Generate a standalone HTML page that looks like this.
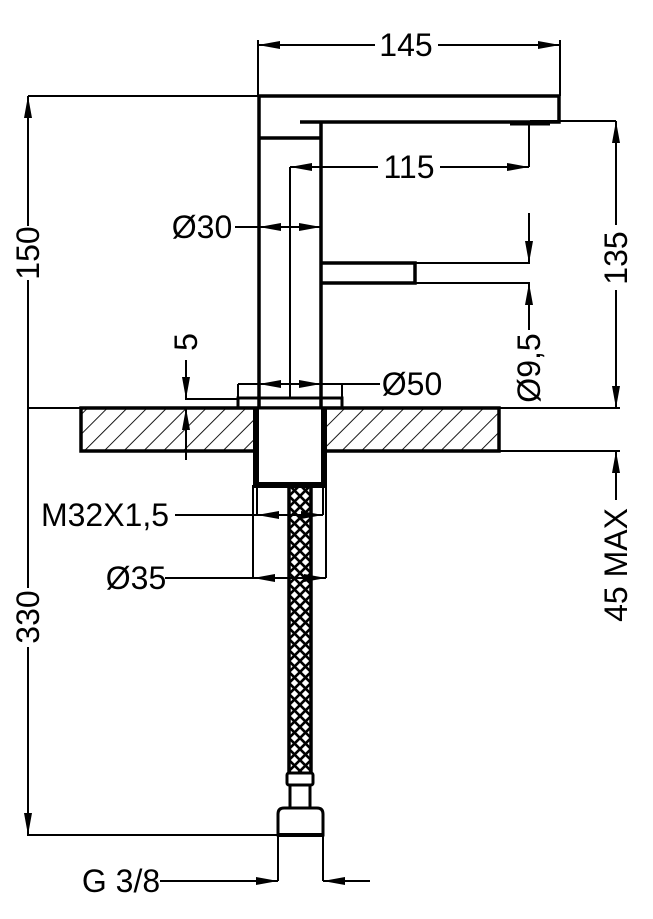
<!DOCTYPE html>
<html><head><style>html,body{margin:0;padding:0;background:#fff}svg{display:block}</style></head>
<body>
<svg width="653" height="919" viewBox="0 0 653 919" xmlns="http://www.w3.org/2000/svg" font-family="Liberation Sans, sans-serif" font-size="32">
<defs>
<pattern id="h" patternUnits="userSpaceOnUse" width="14" height="14" patternTransform="rotate(45)">
<rect width="14" height="14" fill="#fff"/><line x1="0" y1="0" x2="0" y2="14" stroke="#000" stroke-width="1.8"/>
</pattern>
<pattern id="x" patternUnits="userSpaceOnUse" width="11" height="11" x="289" y="485">
<path d="M0 0L11 11M11 0L0 11" stroke="#000" stroke-width="2.6"/>
</pattern>
</defs>
<g stroke="#000" fill="none">
<g stroke-width="3.5">
<path d="M259 96H559V122H300"/>
<path d="M259 96V408"/>
<path d="M321 122V408"/>
<path d="M259 138H321"/>
<path d="M321 263H415V283H321"/>
<path d="M510 124H550" stroke-width="3"/>
</g>
<rect x="238" y="398" width="104" height="10" stroke-width="3"/>
<rect x="81" y="408" width="418" height="43" fill="url(#h)" stroke-width="3.5"/>
<rect x="253" y="408" width="74" height="77" fill="#fff" stroke-width="0"/>
<path d="M256 408V485H324V408" stroke-width="6"/>
<path d="M253 408H327" stroke-width="3"/>
<rect x="289" y="485" width="22" height="290" fill="url(#x)" stroke-width="3.5"/>
<rect x="287" y="773" width="26" height="12" rx="2" fill="#fff" stroke-width="3"/>
<rect x="290" y="785" width="20" height="23" fill="#fff" stroke-width="3"/>
<path d="M278 835V814Q278 808 284 808H317Q323 808 323 814V835Z" fill="#fff" stroke-width="3"/>
<path d="M278 835H323" stroke-width="4"/>
</g>
<g stroke="#000" stroke-width="2" fill="none">
<path d="M258 96V40M560 96V40M258 45H375M438 45H560"/>
<path d="M28 96H258M28 96V226M28 280V408H81M28 408V588M28 647V835H280"/>
<path d="M290 167H378M440 167H529M529 122V167M290 167V398"/>
<path d="M235 227H321"/>
<path d="M415 263H530M415 283H530M529 213V263M529 283V330"/>
<path d="M530 121H616M616 121V225M616 290V408M499 408H620M499 451H620M616 451V500"/>
<path d="M238 384V398M342 384V398M238 384H380"/>
<path d="M186 360V399H238M186 408V460"/>
<path d="M175 515H323M257 485V515M323 485V515"/>
<path d="M165 578H326M253 485V578M326 485V578"/>
<path d="M278 835V881M323 835V881M160 881H278M323 881H370"/>
</g>
<g fill="#000">
<path d="M258 45l22-4v8zM560 45l-22-4v8z"/>
<path d="M28 96l-4 22h8zM28 835l-4-22h8z"/>
<path d="M290 167l22-4v8zM529 167l-22-4v8z"/>
<path d="M259 227l22-4v8zM321 227l-22-4v8z"/>
<path d="M529 263l-4-22h8zM529 283l-4 22h8z"/>
<path d="M616 121l-4 22h8zM616 408l-4-22h8zM616 451l-4 22h8z"/>
<path d="M259 384l22-4v8zM321 384l-22-4v8z"/>
<path d="M186 399l-4-22h8zM186 408l-4 22h8z"/>
<path d="M257 515l22-4v8zM323 515l-22-4v8z"/>
<path d="M253 578l22-4v8zM326 578l-22-4v8z"/>
<path d="M278 881l-22-4v8zM323 881l22-4v8z"/>
</g>
<g fill="#000">
<text x="406" y="56" text-anchor="middle">145</text>
<text x="409" y="178" text-anchor="middle">115</text>
<text x="202" y="238" text-anchor="middle">Ø30</text>
<text x="412" y="395" text-anchor="middle">Ø50</text>
<text x="105" y="526" text-anchor="middle">M32X1,5</text>
<text x="136" y="589" text-anchor="middle">Ø35</text>
<text x="121" y="892" text-anchor="middle">G 3/8</text>
<text transform="translate(39 253) rotate(-90)" text-anchor="middle">150</text>
<text transform="translate(39 617) rotate(-90)" text-anchor="middle">330</text>
<text transform="translate(627 258) rotate(-90)" text-anchor="middle">135</text>
<text transform="translate(627 565) rotate(-90)" text-anchor="middle">45 MAX</text>
<text transform="translate(540 368) rotate(-90)" text-anchor="middle">Ø9,5</text>
<text transform="translate(197 342) rotate(-90)" text-anchor="middle">5</text>
</g>
</svg>
</body></html>
